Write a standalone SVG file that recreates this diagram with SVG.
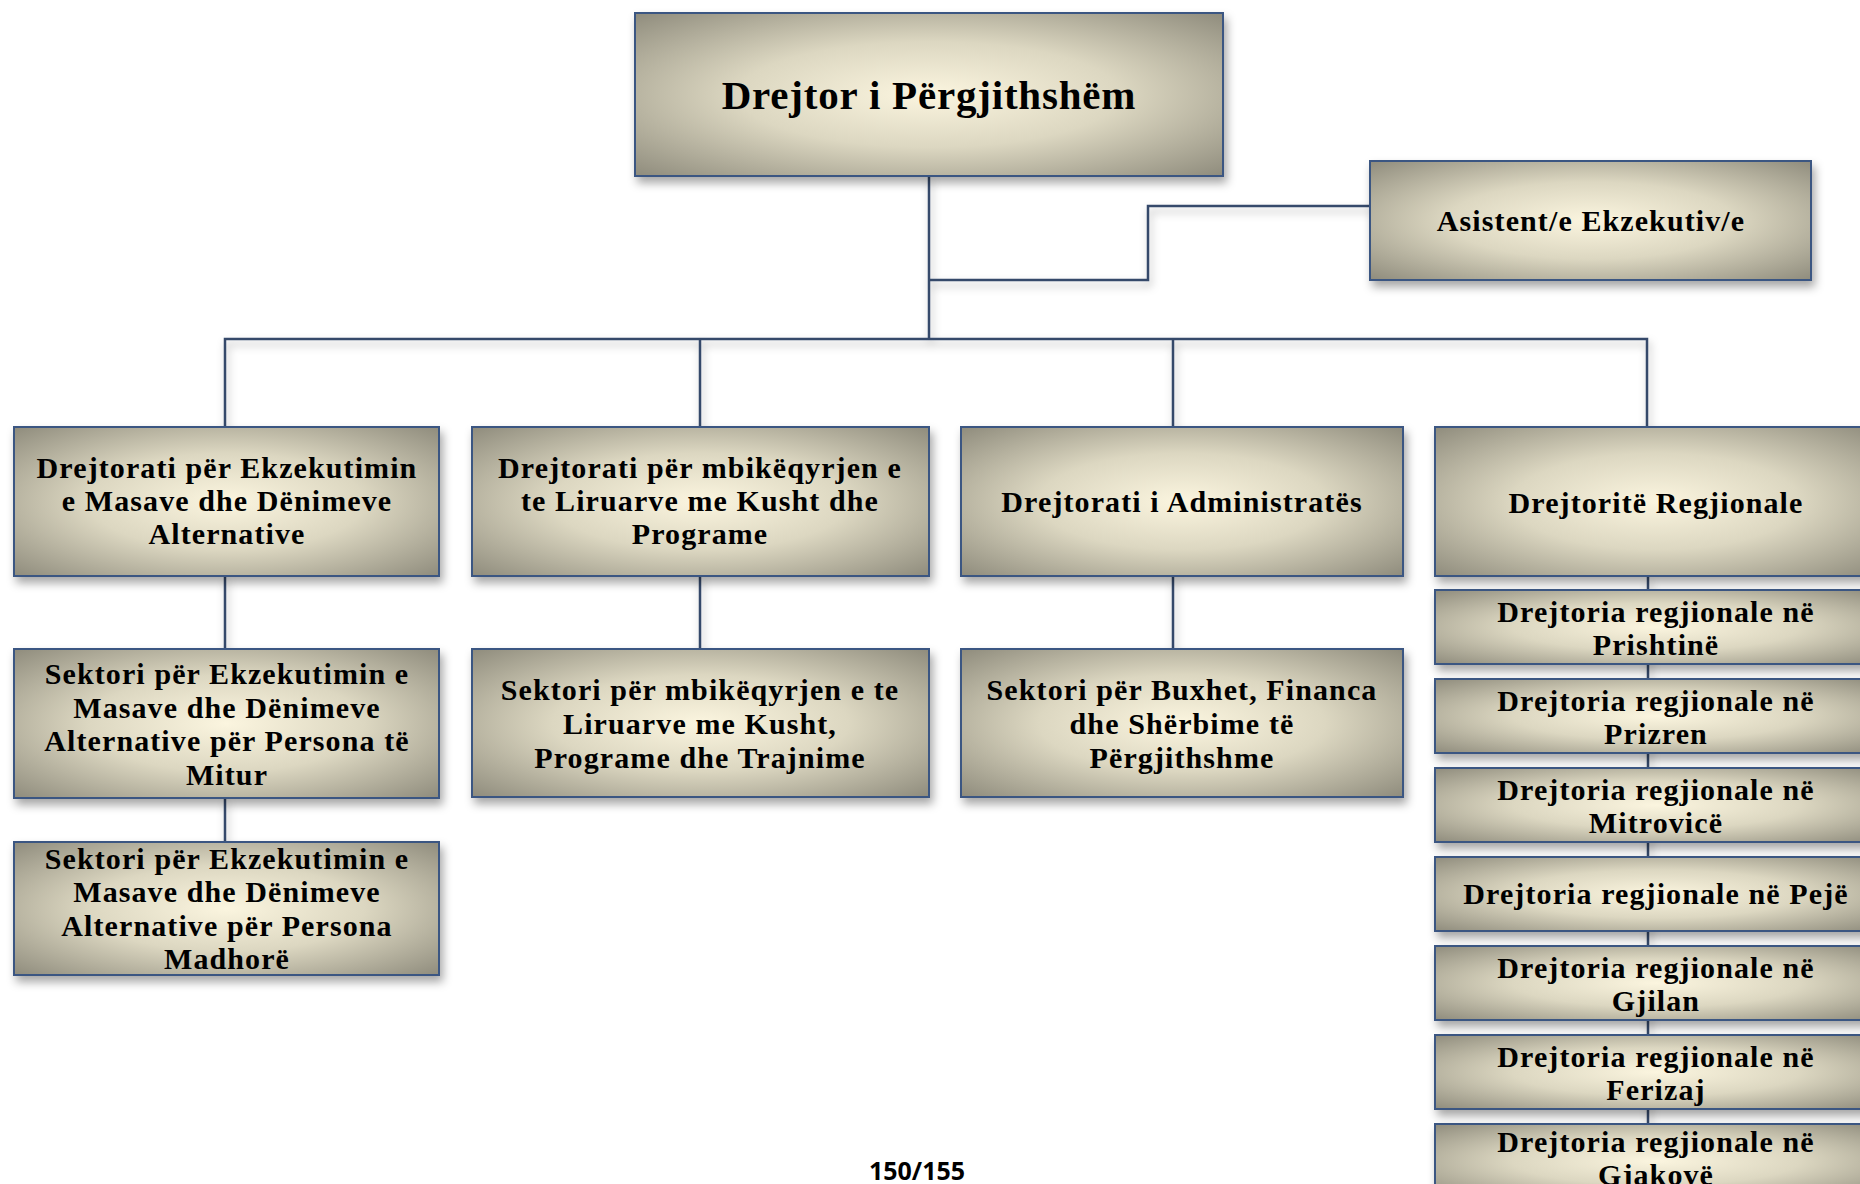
<svg xmlns="http://www.w3.org/2000/svg" width="1860" height="1184" viewBox="0 0 1860 1184">
<defs>
<radialGradient id="g" cx="0.5" cy="0.5" r="0.72">
<stop offset="0" stop-color="#FBF5DF"/>
<stop offset="0.45" stop-color="#DCD7C1"/>
<stop offset="1" stop-color="#8C897A"/>
</radialGradient>
<filter id="sh" x="-10%" y="-20%" width="120%" height="150%">
<feDropShadow dx="3" dy="6" stdDeviation="5" flood-color="#000" flood-opacity="0.35"/>
</filter>
<filter id="lsh" x="-10%" y="-10%" width="120%" height="120%">
<feDropShadow dx="2" dy="5" stdDeviation="4" flood-color="#000" flood-opacity="0.3"/>
</filter>
</defs>
<style>
.b{fill:url(#g);stroke:#3B5682;stroke-width:2;filter:url(#sh)}
.t{font-family:"Liberation Serif","Times New Roman",serif;font-weight:bold;font-size:30px;letter-spacing:1.1px;text-anchor:middle;fill:#000}
.h{font-family:"Liberation Serif","Times New Roman",serif;font-weight:bold;font-size:41px;letter-spacing:0.8px;text-anchor:middle;fill:#000}
.c{fill:none;stroke:#34486A;stroke-width:2.5;filter:url(#lsh)}
.p{font-family:"Open Sans","Liberation Sans",sans-serif;font-weight:bold;font-size:25px;text-anchor:middle;fill:#000}
</style>
<rect width="1860" height="1184" fill="#fff"/>
<g id="connectors">
<path class="c" d="M929 176V339M929 280H1148V206H1370M225 427V339H1647V427M700 339V427M1173 339V427M225 576V649M700 576V649M1173 576V649M225 798V842M1648 576V1184"/>
</g>
<g id="n-drejtor">
<rect class="b" x="635" y="13" width="588" height="163"/>
<text class="h" x="929" y="109">Drejtor i Përgjithshëm</text>
</g>
<g id="n-asistent">
<rect class="b" x="1370" y="161" width="441" height="119"/>
<text class="t" x="1591" y="231">Asistent/e Ekzekutiv/e</text>
</g>
<g id="n-dr-ekz">
<rect class="b" x="14" y="427" width="425" height="149"/>
<text class="t" x="227" y="478">Drejtorati për Ekzekutimin</text>
<text class="t" x="227" y="511">e Masave dhe Dënimeve</text>
<text class="t" x="227" y="544">Alternative</text>
</g>
<g id="n-dr-mbik">
<rect class="b" x="472" y="427" width="457" height="149"/>
<text class="t" x="700" y="478">Drejtorati për mbikëqyrjen e</text>
<text class="t" x="700" y="511">te Liruarve me Kusht dhe</text>
<text class="t" x="700" y="544">Programe</text>
</g>
<g id="n-dr-adm">
<rect class="b" x="961" y="427" width="442" height="149"/>
<text class="t" x="1182" y="512">Drejtorati i Administratës</text>
</g>
<g id="n-dr-reg">
<rect class="b" x="1435" y="427" width="442" height="149"/>
<text class="t" x="1656" y="513">Drejtoritë Regjionale</text>
</g>
<g id="n-sek-mitur">
<rect class="b" x="14" y="649" width="425" height="149"/>
<text class="t" x="227" y="684">Sektori për Ekzekutimin e</text>
<text class="t" x="227" y="718">Masave dhe Dënimeve</text>
<text class="t" x="227" y="751">Alternative për Persona të</text>
<text class="t" x="227" y="785">Mitur</text>
</g>
<g id="n-sek-madh">
<rect class="b" x="14" y="842" width="425" height="133"/>
<text class="t" x="227" y="869">Sektori për Ekzekutimin e</text>
<text class="t" x="227" y="902">Masave dhe Dënimeve</text>
<text class="t" x="227" y="936">Alternative për Persona</text>
<text class="t" x="227" y="969">Madhorë</text>
</g>
<g id="n-sek-mbik">
<rect class="b" x="472" y="649" width="457" height="148"/>
<text class="t" x="700" y="700">Sektori për mbikëqyrjen e te</text>
<text class="t" x="700" y="734">Liruarve me Kusht,</text>
<text class="t" x="700" y="768">Programe dhe Trajnime</text>
</g>
<g id="n-sek-bux">
<rect class="b" x="961" y="649" width="442" height="148"/>
<text class="t" x="1182" y="700">Sektori për Buxhet, Financa</text>
<text class="t" x="1182" y="734">dhe Shërbime të</text>
<text class="t" x="1182" y="768">Përgjithshme</text>
</g>
<g id="n-prishtine">
<rect class="b" x="1435" y="590" width="442" height="74"/>
<text class="t" x="1656" y="622">Drejtoria regjionale në</text>
<text class="t" x="1656" y="655">Prishtinë</text>
</g>
<g id="n-prizren">
<rect class="b" x="1435" y="679" width="442" height="74"/>
<text class="t" x="1656" y="711">Drejtoria regjionale në</text>
<text class="t" x="1656" y="744">Prizren</text>
</g>
<g id="n-mitrovice">
<rect class="b" x="1435" y="768" width="442" height="74"/>
<text class="t" x="1656" y="800">Drejtoria regjionale në</text>
<text class="t" x="1656" y="833">Mitrovicë</text>
</g>
<g id="n-peje">
<rect class="b" x="1435" y="857" width="442" height="74"/>
<text class="t" x="1656" y="904">Drejtoria regjionale në Pejë</text>
</g>
<g id="n-gjilan">
<rect class="b" x="1435" y="946" width="442" height="74"/>
<text class="t" x="1656" y="978">Drejtoria regjionale në</text>
<text class="t" x="1656" y="1011">Gjilan</text>
</g>
<g id="n-ferizaj">
<rect class="b" x="1435" y="1035" width="442" height="74"/>
<text class="t" x="1656" y="1067">Drejtoria regjionale në</text>
<text class="t" x="1656" y="1100">Ferizaj</text>
</g>
<g id="n-gjakove">
<rect class="b" x="1435" y="1124" width="442" height="74"/>
<text class="t" x="1656" y="1152">Drejtoria regjionale në</text>
<text class="t" x="1656" y="1185">Gjakovë</text>
</g>
<text class="p" x="917" y="1180">150/155</text>
</svg>
